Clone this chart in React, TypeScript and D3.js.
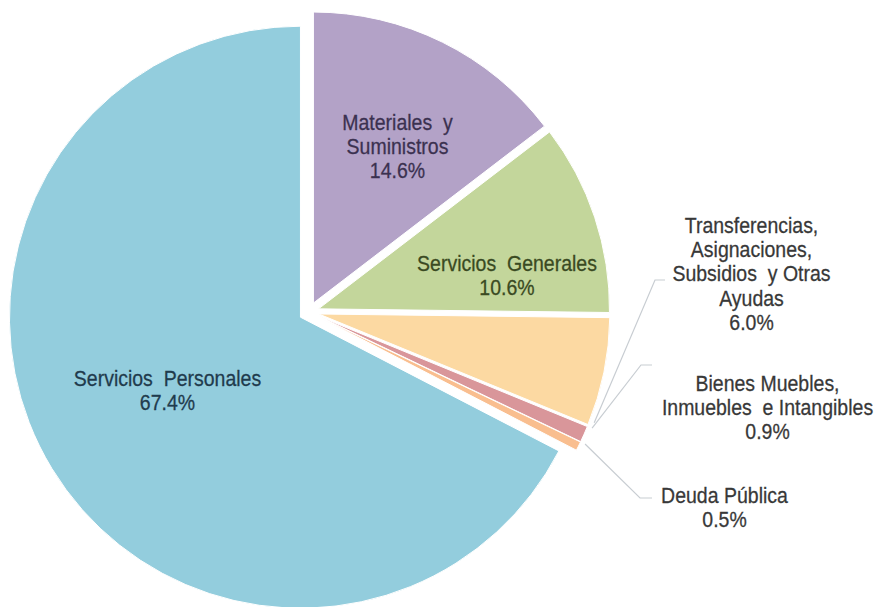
import React from "react";
import * as d3 from "d3";

const categories = [
  "Materiales y Suministros",
  "Servicios Generales",
  "Transferencias, Asignaciones, Subsidios y Otras Ayudas",
  "Bienes Muebles, Inmuebles e Intangibles",
  "Deuda Pública",
  "Servicios Personales",
];
const values = [14.6, 10.6, 6.0, 0.9, 0.5, 67.4];
const labelLines = [
  ["Materiales  y", "Suministros"],
  ["Servicios  Generales"],
  ["Transferencias,", "Asignaciones,", "Subsidios  y Otras", "Ayudas"],
  ["Bienes Muebles,", "Inmuebles  e Intangibles"],
  ["Deuda Pública"],
  ["Servicios  Personales"],
];
const colors = ["#B3A2C7", "#C3D69B", "#FCD9A2", "#D9969A", "#F9BE8F", "#93CDDD"];
const textColors = ["#3B3150", "#3A4A22", "#383838", "#383838", "#383838", "#1F3B4D"];

// layout (not data)
const W = 879;
const H = 607;
const CX = 309;
const CY = 312;
const R = 291;
const EXPLODE = 10;
const FONT = 19.5;
const LINE = 24.3;
const VSCALE = 1.1;
// label centers (x, y of first line center)
const labelPos: [number, number][] = [
  [397.5, 122],
  [507, 263],
  [751.5, 225],
  [767.5, 383],
  [724.5, 495],
  [167.5, 378],
];
// leader: [labelSideX, elbowX, y, slice fraction for anchor] or null
const leaders: ([number, number, number, number] | null)[] = [
  null,
  null,
  [665, 655, 280, 0.95],
  [652, 641, 365, 0.0],
  [652, 640, 498, 0.0],
  null,
];

export default function App() {
  const pie = d3
    .pie<number>()
    .sort(null)
    .value((d) => d)
    .startAngle(0)
    .endAngle(2 * Math.PI);
  const arcs = pie(values);
  const arc = d3.arc<d3.PieArcDatum<number>>().innerRadius(0).outerRadius(R);

  const fmt = d3.format(".1f");

  return (
    <svg width={W} height={H} style={{ position: "absolute", left: 0, top: 0, background: "#fff" }}>
      <g transform={`translate(${CX},${CY})`}>
        {arcs.map((a, i) => {
          const mid = (a.startAngle + a.endAngle) / 2;
          const dx = EXPLODE * Math.sin(mid);
          const dy = -EXPLODE * Math.cos(mid);
          return (
            <path
              key={categories[i]}
              d={arc(a) || ""}
              transform={`translate(${dx},${dy})`}
              fill={colors[i]}
              stroke="#fff"
              strokeWidth={1}
            />
          );
        })}
      </g>
      {arcs.map((a, i) => {
        const l = leaders[i];
        if (!l) return null;
        const ang = a.startAngle + (a.endAngle - a.startAngle) * l[3];
        const rr = R + EXPLODE + 5;
        const px = CX + rr * Math.sin(ang);
        const py = CY - rr * Math.cos(ang);
        return (
          <polyline
            key={"l" + i}
            points={`${l[0]},${l[2]} ${l[1]},${l[2]} ${px},${py}`}
            fill="none"
            stroke="#C8CDD2"
            strokeWidth={1.2}
          />
        );
      })}
      {arcs.map((a, i) => {
        const [x, y] = labelPos[i];
        const lines = [...labelLines[i], `${fmt(values[i])}%`];
        return (
          <g key={"t" + i}>
            {lines.map((s, j) => (
              <text
                key={j}
                transform={`translate(${x},${y + j * LINE}) scale(1,${VSCALE})`}
                textAnchor="middle"
                dy="0.36em"
                fontFamily="'Liberation Sans', Arial, sans-serif"
                fontSize={FONT}
                fill={textColors[i]}
                stroke={textColors[i]}
                strokeWidth={0.25}
                style={{ whiteSpace: "pre" }}
              >
                {s}
              </text>
            ))}
          </g>
        );
      })}
    </svg>
  );
}
